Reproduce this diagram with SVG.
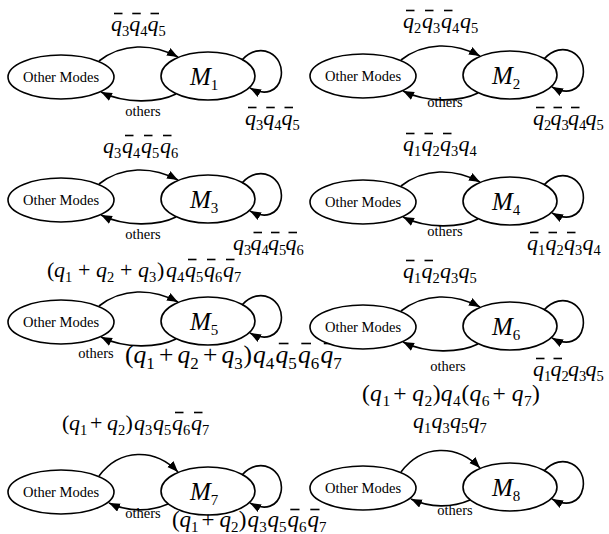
<svg xmlns="http://www.w3.org/2000/svg" width="609" height="534" viewBox="0 0 609 534">
<style>
.t{font-family:"Liberation Serif","Times New Roman",serif;fill:#000}
.nd{fill:#fff;stroke:#000;stroke-width:1.6}
.ed{fill:none;stroke:#000;stroke-width:1.6;marker-end:url(#ah)}
.bar{stroke:#000;stroke-width:1.6}
.om{font-size:14.5px}
.v{font-style:italic}
.sb{font-style:normal}
.mm{font-size:25px;font-style:italic}
.ms{font-size:15px;font-style:normal}
</style>
<defs>
<marker id="ah" markerUnits="userSpaceOnUse" markerWidth="12" markerHeight="9" refX="11" refY="4.25" orient="auto">
<path d="M0,0 L11,4.25 L0,8.5 z" fill="#000"/>
</marker>
</defs>
<rect width="609" height="534" fill="#fff"/>

<!-- Panel 1 -->
<g id="panel1">
<g transform="translate(0,0)">
<g id="p1-other"><ellipse class="nd" cx="61" cy="77" rx="53" ry="22"/><text class="t om" x="61" y="82" text-anchor="middle">Other Modes</text></g>
<g id="p1-m"><ellipse class="nd" cx="208" cy="76" rx="47" ry="24"/><text class="t" x="190" y="85"><tspan class="mm">M</tspan><tspan class="ms" dy="5">1</tspan></text></g>
<g id="p1-edges">
<path class="ed" d="M99,61 C122,43 152,43 178,57"/>
<path class="ed" d="M176,94 C158,103 125,104 101,92"/>
<path class="ed" d="M242,60 C260,40 285,55 281,77 C278,92 265,96 250,88"/>
</g>
</g>
<g id="p1-labels">
<text class="t" font-size="22"><tspan class="v" x="111" y="31">q</tspan><tspan class="sb" font-size="14.5" x="122" y="36">3</tspan><tspan class="v" x="129.25" y="31">q</tspan><tspan class="sb" font-size="14.5" x="140.25" y="36">4</tspan><tspan class="v" x="147.5" y="31">q</tspan><tspan class="sb" font-size="14.5" x="158.5" y="36">5</tspan></text>
<line class="bar" x1="114" y1="13.5" x2="122.5" y2="13.5"/><line class="bar" x1="132.25" y1="13.5" x2="140.75" y2="13.5"/><line class="bar" x1="150.5" y1="13.5" x2="159" y2="13.5"/>
<text class="t" font-size="22"><tspan class="v" x="245" y="125">q</tspan><tspan class="sb" font-size="14.5" x="256" y="130">3</tspan><tspan class="v" x="263.25" y="125">q</tspan><tspan class="sb" font-size="14.5" x="274.25" y="130">4</tspan><tspan class="v" x="281.5" y="125">q</tspan><tspan class="sb" font-size="14.5" x="292.5" y="130">5</tspan></text>
<line class="bar" x1="248" y1="107.5" x2="256.5" y2="107.5"/><line class="bar" x1="266.25" y1="107.5" x2="274.75" y2="107.5"/><line class="bar" x1="284.5" y1="107.5" x2="293" y2="107.5"/>
<text class="t om" x="143" y="116" text-anchor="middle">others</text>
</g>
</g>

<!-- Panel 2 -->
<g id="panel2">
<g transform="translate(302,-1)">
<g id="p2-other"><ellipse class="nd" cx="61" cy="77" rx="53" ry="22"/><text class="t om" x="61" y="82" text-anchor="middle">Other Modes</text></g>
<g id="p2-m"><ellipse class="nd" cx="208" cy="76" rx="47" ry="24"/><text class="t" x="190" y="85"><tspan class="mm">M</tspan><tspan class="ms" dy="5">2</tspan></text></g>
<g id="p2-edges">
<path class="ed" d="M99,61 C122,43 152,43 178,57"/>
<path class="ed" d="M176,94 C158,103 125,104 101,92"/>
<path class="ed" d="M242,60 C260,40 285,55 281,77 C278,92 265,96 250,88"/>
</g>
</g>
<g id="p2-labels">
<text class="t" font-size="22"><tspan class="v" x="403" y="28">q</tspan><tspan class="sb" font-size="14.5" x="414" y="33">2</tspan><tspan class="v" x="422" y="28">q</tspan><tspan class="sb" font-size="14.5" x="433" y="33">3</tspan><tspan class="v" x="441" y="28">q</tspan><tspan class="sb" font-size="14.5" x="452" y="33">4</tspan><tspan class="v" x="460" y="28">q</tspan><tspan class="sb" font-size="14.5" x="471" y="33">5</tspan></text>
<line class="bar" x1="406" y1="10.5" x2="414.5" y2="10.5"/><line class="bar" x1="425" y1="10.5" x2="433.5" y2="10.5"/><line class="bar" x1="444" y1="10.5" x2="452.5" y2="10.5"/>
<text class="t" font-size="22"><tspan class="v" x="533" y="125">q</tspan><tspan class="sb" font-size="14.5" x="544" y="130">2</tspan><tspan class="v" x="550.5" y="125">q</tspan><tspan class="sb" font-size="14.5" x="561.5" y="130">3</tspan><tspan class="v" x="568" y="125">q</tspan><tspan class="sb" font-size="14.5" x="579" y="130">4</tspan><tspan class="v" x="585.5" y="125">q</tspan><tspan class="sb" font-size="14.5" x="596.5" y="130">5</tspan></text>
<line class="bar" x1="536" y1="107.5" x2="544.5" y2="107.5"/><line class="bar" x1="553.5" y1="107.5" x2="562" y2="107.5"/><line class="bar" x1="571" y1="107.5" x2="579.5" y2="107.5"/>
<text class="t om" x="445" y="107" text-anchor="middle">others</text>
</g>
</g>

<!-- Panel 3 -->
<g id="panel3">
<g transform="translate(0,123)">
<g id="p3-other"><ellipse class="nd" cx="61" cy="77" rx="53" ry="22"/><text class="t om" x="61" y="82" text-anchor="middle">Other Modes</text></g>
<g id="p3-m"><ellipse class="nd" cx="208" cy="76" rx="47" ry="24"/><text class="t" x="190" y="85"><tspan class="mm">M</tspan><tspan class="ms" dy="5">3</tspan></text></g>
<g id="p3-edges">
<path class="ed" d="M99,61 C122,43 152,43 178,57"/>
<path class="ed" d="M176,94 C158,103 125,104 101,92"/>
<path class="ed" d="M242,60 C260,40 285,55 281,77 C278,92 265,96 250,88"/>
</g>
</g>
<g id="p3-labels">
<text class="t" font-size="22"><tspan class="v" x="103" y="153">q</tspan><tspan class="sb" font-size="14.5" x="114" y="158">3</tspan><tspan class="v" x="122" y="153">q</tspan><tspan class="sb" font-size="14.5" x="133" y="158">4</tspan><tspan class="v" x="141" y="153">q</tspan><tspan class="sb" font-size="14.5" x="152" y="158">5</tspan><tspan class="v" x="160" y="153">q</tspan><tspan class="sb" font-size="14.5" x="171" y="158">6</tspan></text>
<line class="bar" x1="125" y1="135.5" x2="133.5" y2="135.5"/><line class="bar" x1="144" y1="135.5" x2="152.5" y2="135.5"/><line class="bar" x1="163" y1="135.5" x2="171.5" y2="135.5"/>
<text class="t" font-size="22"><tspan class="v" x="233" y="250">q</tspan><tspan class="sb" font-size="14.5" x="244" y="255">3</tspan><tspan class="v" x="250.5" y="250">q</tspan><tspan class="sb" font-size="14.5" x="261.5" y="255">4</tspan><tspan class="v" x="268" y="250">q</tspan><tspan class="sb" font-size="14.5" x="279" y="255">5</tspan><tspan class="v" x="285.5" y="250">q</tspan><tspan class="sb" font-size="14.5" x="296.5" y="255">6</tspan></text>
<line class="bar" x1="253.5" y1="232.5" x2="262" y2="232.5"/><line class="bar" x1="271" y1="232.5" x2="279.5" y2="232.5"/><line class="bar" x1="288.5" y1="232.5" x2="297" y2="232.5"/>
<text class="t om" x="143" y="239" text-anchor="middle">others</text>
</g>
</g>

<!-- Panel 4 -->
<g id="panel4">
<g transform="translate(302,125)">
<g id="p4-other"><ellipse class="nd" cx="61" cy="77" rx="53" ry="22"/><text class="t om" x="61" y="82" text-anchor="middle">Other Modes</text></g>
<g id="p4-m"><ellipse class="nd" cx="208" cy="76" rx="47" ry="24"/><text class="t" x="190" y="85"><tspan class="mm">M</tspan><tspan class="ms" dy="5">4</tspan></text></g>
<g id="p4-edges">
<path class="ed" d="M99,61 C122,43 152,43 178,57"/>
<path class="ed" d="M176,94 C158,103 125,104 101,92"/>
<path class="ed" d="M242,60 C260,40 285,55 281,77 C278,92 265,96 250,88"/>
</g>
</g>
<g id="p4-labels">
<text class="t" font-size="22"><tspan class="v" x="403" y="151">q</tspan><tspan class="sb" font-size="14.5" x="414" y="156">1</tspan><tspan class="v" x="421.5" y="151">q</tspan><tspan class="sb" font-size="14.5" x="432.5" y="156">2</tspan><tspan class="v" x="440" y="151">q</tspan><tspan class="sb" font-size="14.5" x="451" y="156">3</tspan><tspan class="v" x="458.5" y="151">q</tspan><tspan class="sb" font-size="14.5" x="469.5" y="156">4</tspan></text>
<line class="bar" x1="406" y1="133.5" x2="414.5" y2="133.5"/><line class="bar" x1="424.5" y1="133.5" x2="433" y2="133.5"/><line class="bar" x1="443" y1="133.5" x2="451.5" y2="133.5"/>
<text class="t" font-size="22"><tspan class="v" x="527" y="250">q</tspan><tspan class="sb" font-size="14.5" x="538" y="255">1</tspan><tspan class="v" x="545.5" y="250">q</tspan><tspan class="sb" font-size="14.5" x="556.5" y="255">2</tspan><tspan class="v" x="564" y="250">q</tspan><tspan class="sb" font-size="14.5" x="575" y="255">3</tspan><tspan class="v" x="582.5" y="250">q</tspan><tspan class="sb" font-size="14.5" x="593.5" y="255">4</tspan></text>
<line class="bar" x1="530" y1="232.5" x2="538.5" y2="232.5"/><line class="bar" x1="548.5" y1="232.5" x2="557" y2="232.5"/><line class="bar" x1="567" y1="232.5" x2="575.5" y2="232.5"/>
<text class="t om" x="445" y="236" text-anchor="middle">others</text>
</g>
</g>

<!-- Panel 5 -->
<g id="panel5">
<g transform="translate(0,245)">
<g id="p5-other"><ellipse class="nd" cx="61" cy="77" rx="53" ry="22"/><text class="t om" x="61" y="82" text-anchor="middle">Other Modes</text></g>
<g id="p5-m"><ellipse class="nd" cx="208" cy="76" rx="47" ry="24"/><text class="t" x="190" y="85"><tspan class="mm">M</tspan><tspan class="ms" dy="5">5</tspan></text></g>
<g id="p5-edges">
<path class="ed" d="M99,61 C122,43 152,43 178,57"/>
<path class="ed" d="M176,94 C158,103 125,104 101,92"/>
<path class="ed" d="M242,60 C260,40 285,55 281,77 C278,92 265,96 250,88"/>
</g>
</g>
<g id="p5-labels">
<text class="t" font-size="22"><tspan x="47" y="277">(</tspan><tspan class="v" x="54" y="277">q</tspan><tspan class="sb" font-size="14.5" x="65" y="282">1</tspan><tspan x="78" y="277">+</tspan><tspan class="v" x="96" y="277">q</tspan><tspan class="sb" font-size="14.5" x="107" y="282">2</tspan><tspan x="120" y="277">+</tspan><tspan class="v" x="138" y="277">q</tspan><tspan class="sb" font-size="14.5" x="149" y="282">3</tspan><tspan x="157" y="277">)</tspan><tspan class="v" x="166" y="277">q</tspan><tspan class="sb" font-size="14.5" x="177" y="282">4</tspan><tspan class="v" x="185" y="277">q</tspan><tspan class="sb" font-size="14.5" x="196" y="282">5</tspan><tspan class="v" x="204" y="277">q</tspan><tspan class="sb" font-size="14.5" x="215" y="282">6</tspan><tspan class="v" x="223" y="277">q</tspan><tspan class="sb" font-size="14.5" x="234" y="282">7</tspan></text>
<line class="bar" x1="188" y1="259.5" x2="196.5" y2="259.5"/><line class="bar" x1="207" y1="259.5" x2="215.5" y2="259.5"/><line class="bar" x1="226" y1="259.5" x2="234.5" y2="259.5"/>
<text class="t" font-size="25.5"><tspan x="125" y="363">(</tspan><tspan class="v" x="133.5" y="363">q</tspan><tspan class="sb" font-size="17" x="146.25" y="369">1</tspan><tspan x="159" y="363">+</tspan><tspan class="v" x="177.5" y="363">q</tspan><tspan class="sb" font-size="17" x="190.25" y="369">2</tspan><tspan x="203" y="363">+</tspan><tspan class="v" x="221.5" y="363">q</tspan><tspan class="sb" font-size="17" x="234.25" y="369">3</tspan><tspan x="243.5" y="363">)</tspan><tspan class="v" x="253" y="363">q</tspan><tspan class="sb" font-size="17" x="265.75" y="369">4</tspan><tspan class="v" x="275.5" y="363">q</tspan><tspan class="sb" font-size="17" x="288.25" y="369">5</tspan><tspan class="v" x="298" y="363">q</tspan><tspan class="sb" font-size="17" x="310.75" y="369">6</tspan><tspan class="v" x="320.5" y="363">q</tspan><tspan class="sb" font-size="17" x="333.25" y="369">7</tspan></text>
<line class="bar" x1="278.8" y1="343.5" x2="288.5" y2="343.5"/><line class="bar" x1="301.3" y1="343.5" x2="311" y2="343.5"/><line class="bar" x1="323.8" y1="343.5" x2="333.5" y2="343.5"/>
<text class="t om" x="96" y="358" text-anchor="middle">others</text>
</g>
</g>

<!-- Panel 6 -->
<g id="panel6">
<g transform="translate(302,250)">
<g id="p6-other"><ellipse class="nd" cx="61" cy="77" rx="53" ry="22"/><text class="t om" x="61" y="82" text-anchor="middle">Other Modes</text></g>
<g id="p6-m"><ellipse class="nd" cx="208" cy="76" rx="47" ry="24"/><text class="t" x="190" y="85"><tspan class="mm">M</tspan><tspan class="ms" dy="5">6</tspan></text></g>
<g id="p6-edges">
<path class="ed" d="M99,61 C122,43 152,43 178,57"/>
<path class="ed" d="M176,94 C158,103 125,104 101,92"/>
<path class="ed" d="M242,60 C260,40 285,55 281,77 C278,92 265,96 250,88"/>
</g>
</g>
<g id="p6-labels">
<text class="t" font-size="22"><tspan class="v" x="403" y="278">q</tspan><tspan class="sb" font-size="14.5" x="414" y="283">1</tspan><tspan class="v" x="421.5" y="278">q</tspan><tspan class="sb" font-size="14.5" x="432.5" y="283">2</tspan><tspan class="v" x="440" y="278">q</tspan><tspan class="sb" font-size="14.5" x="451" y="283">3</tspan><tspan class="v" x="458.5" y="278">q</tspan><tspan class="sb" font-size="14.5" x="469.5" y="283">5</tspan></text>
<line class="bar" x1="406" y1="260.5" x2="414.5" y2="260.5"/><line class="bar" x1="424.5" y1="260.5" x2="433" y2="260.5"/>
<text class="t" font-size="22"><tspan class="v" x="533" y="376">q</tspan><tspan class="sb" font-size="14.5" x="544" y="381">1</tspan><tspan class="v" x="550.5" y="376">q</tspan><tspan class="sb" font-size="14.5" x="561.5" y="381">2</tspan><tspan class="v" x="568" y="376">q</tspan><tspan class="sb" font-size="14.5" x="579" y="381">3</tspan><tspan class="v" x="585.5" y="376">q</tspan><tspan class="sb" font-size="14.5" x="596.5" y="381">5</tspan></text>
<line class="bar" x1="536" y1="358.5" x2="544.5" y2="358.5"/><line class="bar" x1="553.5" y1="358.5" x2="562" y2="358.5"/>
<text class="t om" x="448" y="371" text-anchor="middle">others</text>
</g>
</g>

<!-- Panel 7 -->
<g id="panel7">
<g transform="translate(0,415)">
<g id="p7-other"><ellipse class="nd" cx="61" cy="77" rx="53" ry="22"/><text class="t om" x="61" y="82" text-anchor="middle">Other Modes</text></g>
<g id="p7-m"><ellipse class="nd" cx="208" cy="76" rx="47" ry="24"/><text class="t" x="190" y="85"><tspan class="mm">M</tspan><tspan class="ms" dy="5">7</tspan></text></g>
<g id="p7-edges">
<path class="ed" d="M99,61 C120,33 155,33 178,57"/>
<path class="ed" d="M168,89 C150,97 128,97 109,88"/>
<path class="ed" d="M242,60 C260,40 285,55 281,77 C278,92 265,96 250,88"/>
</g>
</g>
<g id="p7-labels">
<text class="t" font-size="22"><tspan x="62" y="430">(</tspan><tspan class="v" x="69" y="430">q</tspan><tspan class="sb" font-size="14.5" x="80" y="435">1</tspan><tspan x="90" y="430">+</tspan><tspan class="v" x="107" y="430">q</tspan><tspan class="sb" font-size="14.5" x="118" y="435">2</tspan><tspan x="125.5" y="430">)</tspan><tspan class="v" x="134" y="430">q</tspan><tspan class="sb" font-size="14.5" x="145" y="435">3</tspan><tspan class="v" x="153" y="430">q</tspan><tspan class="sb" font-size="14.5" x="164" y="435">5</tspan><tspan class="v" x="172" y="430">q</tspan><tspan class="sb" font-size="14.5" x="183" y="435">6</tspan><tspan class="v" x="191" y="430">q</tspan><tspan class="sb" font-size="14.5" x="202" y="435">7</tspan></text>
<line class="bar" x1="175" y1="412.5" x2="183.5" y2="412.5"/><line class="bar" x1="194" y1="412.5" x2="202.5" y2="412.5"/>
<text class="t" font-size="23"><tspan x="172" y="527">(</tspan><tspan class="v" x="179.4" y="527">q</tspan><tspan class="sb" font-size="15" x="191" y="532">1</tspan><tspan x="201.5" y="527">+</tspan><tspan class="v" x="219.4" y="527">q</tspan><tspan class="sb" font-size="15" x="231" y="532">2</tspan><tspan x="238.7" y="527">)</tspan><tspan class="v" x="247.6" y="527">q</tspan><tspan class="sb" font-size="15" x="259.2" y="532">3</tspan><tspan class="v" x="267.5" y="527">q</tspan><tspan class="sb" font-size="15" x="279" y="532">5</tspan><tspan class="v" x="287.5" y="527">q</tspan><tspan class="sb" font-size="15" x="299" y="532">6</tspan><tspan class="v" x="307.5" y="527">q</tspan><tspan class="sb" font-size="15" x="319" y="532">7</tspan></text>
<line class="bar" x1="290.3" y1="509.5" x2="299.5" y2="509.5"/><line class="bar" x1="310.3" y1="509.5" x2="319.5" y2="509.5"/>
<text class="t om" x="143" y="518" text-anchor="middle">others</text>
</g>
</g>

<!-- Panel 8 -->
<g id="panel8">
<g transform="translate(302,411)">
<g id="p8-other"><ellipse class="nd" cx="61" cy="77" rx="53" ry="22"/><text class="t om" x="61" y="82" text-anchor="middle">Other Modes</text></g>
<g id="p8-m"><ellipse class="nd" cx="208" cy="76" rx="47" ry="24"/><text class="t" x="190" y="85"><tspan class="mm">M</tspan><tspan class="ms" dy="5">8</tspan></text></g>
<g id="p8-edges">
<path class="ed" d="M99,61 C120,33 155,33 178,57"/>
<path class="ed" d="M168,89 C150,97 128,97 109,88"/>
<path class="ed" d="M242,60 C260,40 285,55 281,77 C278,92 265,96 250,88"/>
</g>
</g>
<g id="p8-labels">
<text class="t" font-size="23.5"><tspan x="362" y="401">(</tspan><tspan class="v" x="370.1" y="401">q</tspan><tspan class="sb" font-size="15.5" x="382.4" y="406">1</tspan><tspan x="393.2" y="401">+</tspan><tspan class="v" x="412.2" y="401">q</tspan><tspan class="sb" font-size="15.5" x="424.5" y="406">2</tspan><tspan x="432.7" y="401">)</tspan><tspan class="v" x="440.8" y="401">q</tspan><tspan class="sb" font-size="15.5" x="453.1" y="406">4</tspan><tspan x="461.4" y="401">(</tspan><tspan class="v" x="469.5" y="401">q</tspan><tspan class="sb" font-size="15.5" x="481.8" y="406">6</tspan><tspan x="492.6" y="401">+</tspan><tspan class="v" x="511.7" y="401">q</tspan><tspan class="sb" font-size="15.5" x="523.9" y="406">7</tspan><tspan x="532" y="401">)</tspan></text>
<text class="t" font-size="22"><tspan class="v" x="413" y="428">q</tspan><tspan class="sb" font-size="14.5" x="424" y="433">1</tspan><tspan class="v" x="431.5" y="428">q</tspan><tspan class="sb" font-size="14.5" x="442.5" y="433">3</tspan><tspan class="v" x="450" y="428">q</tspan><tspan class="sb" font-size="14.5" x="461" y="433">5</tspan><tspan class="v" x="468.5" y="428">q</tspan><tspan class="sb" font-size="14.5" x="479.5" y="433">7</tspan></text>
<text class="t om" x="455" y="515" text-anchor="middle">others</text>
</g>
</g>
</svg>
